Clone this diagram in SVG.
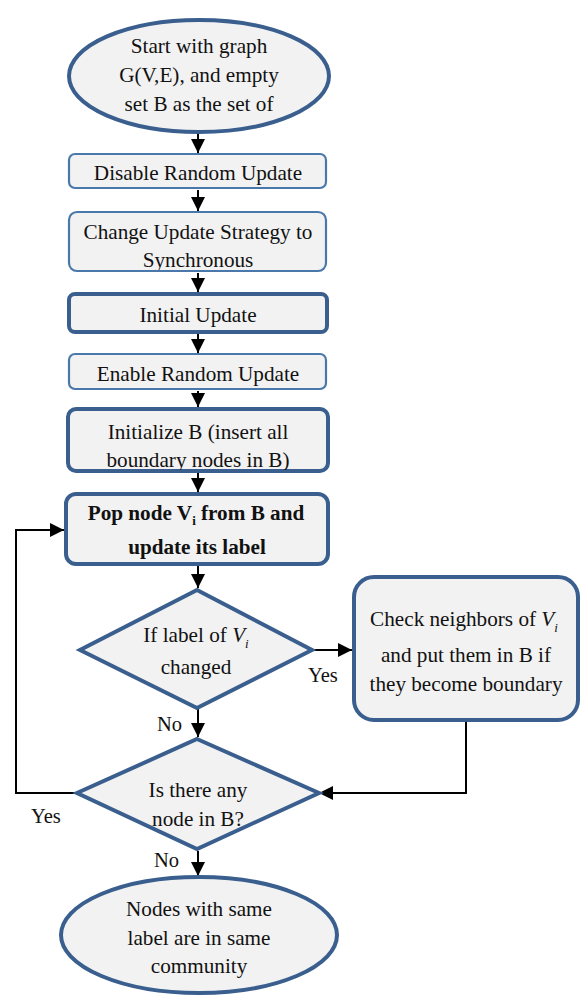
<svg xmlns="http://www.w3.org/2000/svg" width="581" height="995" viewBox="0 0 581 995" font-family="'Liberation Serif', Tinos, 'Times New Roman', 'DejaVu Serif', serif">
  <style>
    .shape { fill: #f2f2f2; stroke: #3a5f8e; stroke-width: 4; }
    .thin { stroke: #4a78aa; stroke-width: 2.2; }
    text { font-family: 'Liberation Serif', Tinos, 'Times New Roman', 'DejaVu Serif', serif; fill: #111; }
    .txt { font-size: 21.2px; text-anchor: middle; }
    .bold { font-weight: bold; }
    .lbl { font-size: 20.5px; }
    .conn { fill: none; stroke: #000; stroke-width: 2; }
  </style>
  <defs>
    <marker id="arrow" viewBox="0 0 10 10" refX="10" refY="5" markerWidth="7" markerHeight="7" markerUnits="strokeWidth" orient="auto">
      <path d="M0,0 L10,5 L0,10 z" fill="#000"/>
    </marker>
    <clipPath id="clip-strategy"><rect x="70" y="213" width="255" height="57"/></clipPath>
    <clipPath id="clip-init"><rect x="70" y="411" width="256" height="59"/></clipPath>
  </defs>

  <g id="connectors">
    <line class="conn" x1="198" y1="133" x2="198" y2="153" marker-end="url(#arrow)"/>
    <line class="conn" x1="198" y1="190" x2="198" y2="211" marker-end="url(#arrow)"/>
    <line class="conn" x1="198" y1="273" x2="198" y2="292" marker-end="url(#arrow)"/>
    <line class="conn" x1="198" y1="334" x2="198" y2="353" marker-end="url(#arrow)"/>
    <line class="conn" x1="198" y1="391" x2="198" y2="407" marker-end="url(#arrow)"/>
    <line class="conn" x1="198" y1="473" x2="198" y2="492" marker-end="url(#arrow)"/>
    <line class="conn" x1="198" y1="566" x2="198" y2="588" marker-end="url(#arrow)"/>
    <line class="conn" x1="198" y1="709" x2="198" y2="737" marker-end="url(#arrow)"/>
    <line class="conn" x1="198" y1="851" x2="198" y2="876" marker-end="url(#arrow)"/>
    <polyline class="conn" points="312,650 352,650" marker-end="url(#arrow)"/>
    <polyline class="conn" points="466,722 466,793 319,793" marker-end="url(#arrow)"/>
    <polyline class="conn" points="75,793 16,793 16,530 64,530" marker-end="url(#arrow)"/>
    <text class="lbl" x="308" y="682">Yes</text>
    <text class="lbl" x="157" y="731">No</text>
    <text class="lbl" x="31" y="823">Yes</text>
    <text class="lbl" x="154" y="867">No</text>
  </g>

  <g id="start">
    <ellipse class="shape" cx="199" cy="76" rx="130" ry="56"/>
    <text class="txt" x="199" y="53">Start with graph</text>
    <text class="txt" x="199" y="82">G(V,E), and empty</text>
    <text class="txt" x="199" y="111">set B as the set of</text>
  </g>

  <g id="disable-random">
    <rect class="shape thin" x="69" y="154" width="257" height="34" rx="6"/>
    <text class="txt" x="198" y="180">Disable Random Update</text>
  </g>

  <g id="change-strategy">
    <rect class="shape thin" x="69" y="212" width="257" height="59" rx="8"/>
    <g clip-path="url(#clip-strategy)">
      <text class="txt" x="198" y="239">Change Update Strategy to</text>
      <text class="txt" x="198" y="267">Synchronous</text>
    </g>
  </g>

  <g id="initial-update">
    <rect class="shape" x="69" y="294" width="258" height="38" rx="6"/>
    <text class="txt" x="198" y="322">Initial Update</text>
  </g>

  <g id="enable-random">
    <rect class="shape thin" x="69" y="354" width="257" height="35" rx="6"/>
    <text class="txt" x="198" y="381">Enable Random Update</text>
  </g>

  <g id="initialize-b">
    <rect class="shape" x="68" y="409" width="260" height="62" rx="8"/>
    <g clip-path="url(#clip-init)">
      <text class="txt" x="198" y="439">Initialize B (insert all</text>
      <text class="txt" x="198" y="467">boundary nodes in B)</text>
    </g>
  </g>

  <g id="pop-node">
    <rect class="shape" x="66" y="494" width="262" height="70" rx="10"/>
    <text class="txt bold" x="196" y="520">Pop node V<tspan font-size="13" dy="5">i</tspan><tspan dy="-5"> from B and</tspan></text>
    <text class="txt bold" x="197" y="554">update its label</text>
  </g>

  <g id="label-changed">
    <polygon class="shape" points="197,590 312,650 197,708 80,650"/>
    <text class="txt" x="196" y="642">If label of <tspan font-style="italic">V</tspan><tspan font-style="italic" font-size="13" dy="6">i</tspan></text>
    <text class="txt" x="196" y="674">changed</text>
  </g>

  <g id="check-neighbors">
    <rect class="shape" x="354" y="577" width="224" height="143" rx="20"/>
    <text class="txt" x="464" y="626">Check neighbors of <tspan font-style="italic">V</tspan><tspan font-style="italic" font-size="13" dy="6">i</tspan></text>
    <text class="txt" x="466" y="662">and put them in B if</text>
    <text class="txt" x="466" y="691">they become boundary</text>
  </g>

  <g id="any-node">
    <polygon class="shape" points="197,739 319,793 197,849 77,793"/>
    <text class="txt" x="198" y="797">Is there any</text>
    <text class="txt" x="198" y="826">node in B?</text>
  </g>

  <g id="end">
    <ellipse class="shape" cx="199" cy="935" rx="138" ry="58"/>
    <text class="txt" x="199" y="916">Nodes with same</text>
    <text class="txt" x="199" y="945">label are in same</text>
    <text class="txt" x="199" y="973">community</text>
  </g>
</svg>
